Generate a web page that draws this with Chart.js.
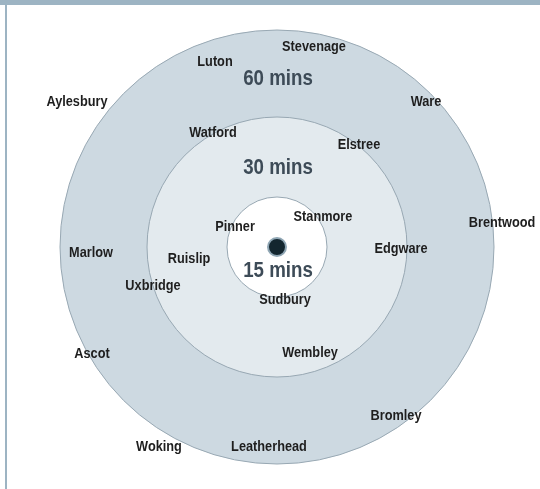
<!DOCTYPE html>
<html>
<head>
<meta charset="utf-8">
<script src="https://cdn.jsdelivr.net/npm/chart.js@4"></script>
<style>
  body { margin: 0; background: #fff; }
  #wrap { position: relative; width: 540px; height: 489px; }
  #topbar { position: absolute; left: 0; top: 0; width: 540px; height: 5px; background: #9db4c3; }
  #leftbar { position: absolute; left: 5px; top: 0; width: 2px; height: 489px; background: #9db4c3; }
</style>
</head>
<body>
<div id="wrap">
  <canvas id="myChart"></canvas>
  <div id="topbar"></div>
  <div id="leftbar"></div>
</div>
<script>
// travel time rings, radius in map units around the hub
const ringNames = ['60 mins', '30 mins', '15 mins']
const ringRadii = [217, 130, 50]
const ringLabelX = [1, 1, 1]
const ringLabelY = [168, 79, -24]

// places, map units relative to hub (y up)
const places = ['Aylesbury', 'Luton', 'Stevenage', 'Ware', 'Watford', 'Elstree', 'Brentwood', 'Stanmore', 'Pinner', 'Edgware',
  'Marlow', 'Ruislip', 'Uxbridge', 'Sudbury', 'Wembley', 'Ascot', 'Bromley', 'Woking', 'Leatherhead']
const placeX = [-200, -62, 37, 149, -64, 82, 225, 46, -42, 124, -186, -88, -124, 8, 33, -185, 119, -118, -8]
const placeY = [145, 185, 200, 145, 114, 102, 24, 30, 20, -2, -6, -12, -39, -53, -106, -107, -169, -200, -200]

const hubSize = [9]

const ringFill = ['#cdd9e1', '#e3eaee', '#ffffff']
const labelFont = 'bold 15px "Liberation Sans", Arial, sans-serif'
const ringFont = 'bold 22px "Liberation Sans", Arial, sans-serif'
const squeeze = 0.85 // condensed look

const radiusPx = ctx => {
  const s = ctx.chart.scales.x
  return s.getPixelForValue(ringRadii[ctx.dataIndex]) - s.getPixelForValue(0)
}

const textPlugin = {
  id: 'textLabels',
  afterDatasetsDraw (chart) {
    const c = chart.ctx
    chart.data.datasets.forEach((ds, i) => {
      if (!ds.names) return
      chart.getDatasetMeta(i).data.forEach((pt, j) => {
        c.save()
        c.font = ds.font
        c.fillStyle = ds.textColor
        c.textAlign = 'center'
        c.textBaseline = 'middle'
        c.translate(pt.x, pt.y)
        c.scale(squeeze, 1)
        c.fillText(ds.names[j], 0, 0)
        c.restore()
      })
    })
  }
}

const ctx = document.getElementById('myChart')
const myChart = new Chart(ctx, {
  type: 'scatter',
  data: {
    datasets: [
      {
        // place names
        names: places,
        font: labelFont,
        textColor: '#1e1e1e',
        data: places.map((p, i) => ({ x: placeX[i], y: placeY[i] })),
        pointRadius: 0,
        order: 0
      },
      {
        names: ringNames,
        font: ringFont,
        textColor: '#3d4b57',
        data: ringNames.map((p, i) => ({ x: ringLabelX[i], y: ringLabelY[i] })),
        pointRadius: 0,
        order: 1
      },
      {
        // hub
        data: hubSize.map(() => ({ x: 0, y: 0 })),
        pointRadius: hubSize,
        backgroundColor: '#13262f',
        borderColor: '#8fa6b4',
        borderWidth: 2,
        order: 2
      },
      {
        // rings, drawn outer first
        data: ringRadii.map(() => ({ x: 0, y: 0 })),
        pointRadius: radiusPx,
        backgroundColor: ringFill,
        borderColor: '#98a8b3',
        borderWidth: 1,
        clip: false,
        order: 3
      }
    ]
  },
  options: {
    responsive: true,
    maintainAspectRatio: false,
    animation: false,
    layout: { padding: 0, autoPadding: false },
    scales: {
      x: { type: 'linear', min: -277, max: 263, display: false },
      y: { type: 'linear', min: -242, max: 247, display: false }
    },
    plugins: {
      legend: { display: false },
      tooltip: { enabled: false }
    }
  },
  plugins: [textPlugin]
})
</script>
</body>
</html>
